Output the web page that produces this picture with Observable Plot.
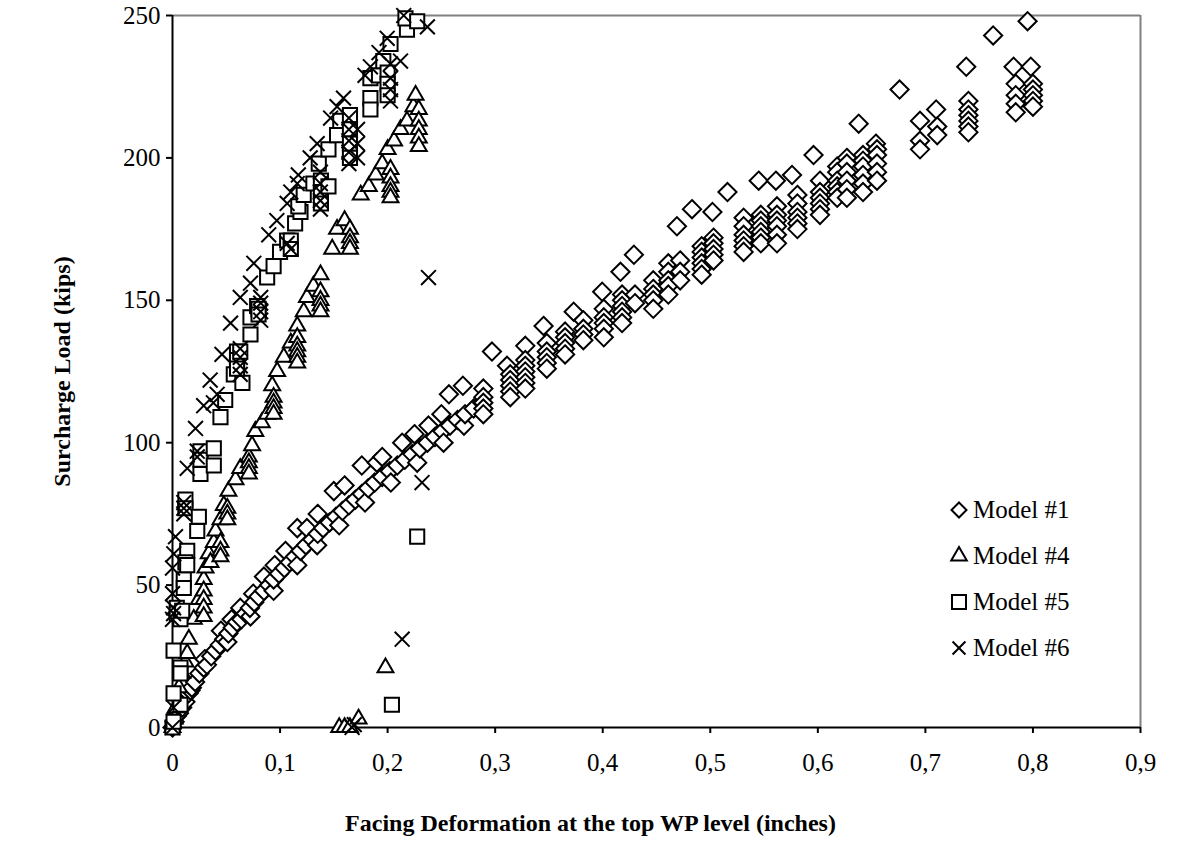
<!DOCTYPE html>
<html><head><meta charset="utf-8">
<script src="https://cdn.jsdelivr.net/npm/d3@7"></script>
<script src="https://cdn.jsdelivr.net/npm/@observablehq/plot@0.6"></script>
<style>
body{margin:0;background:#fff;}
#wrap{position:relative;width:1179px;height:855px;}
#legend{position:absolute;left:946px;top:487px;font-family:"Liberation Serif","Times New Roman",serif;font-size:25px;color:#000;}
.row{display:flex;align-items:center;height:46px;}
.row span{margin-left:1px;white-space:nowrap;}
</style></head><body><div id="wrap"></div>
<script>
const seriesNames = ["Model #1", "Model #4", "Model #5", "Model #6"];
const xTitle = "Facing Deformation at the top WP level (inches)";
const yTitle = "Surcharge Load (kips)";
const xTicks = [0, 0.1, 0.2, 0.3, 0.4, 0.5, 0.6, 0.7, 0.8, 0.9];
const yTicks = [0, 50, 100, 150, 200, 250];

const model1 = [
[0,0],[0.002,2],[0.004,4],[0.006,5],[0.009,7],[0.012,9],[0.015,12],[0.0167,13],[0.018,14],[0.021,16],[0.025,19],[0.029,21],[0.03,24],[0.032,22],[0.036,25],[0.04,27],[0.044,29],[0.045,34],[0.048,31],[0.051,30],[0.052,33],[0.055,38],[0.056,35],[0.06,37],[0.063,42],[0.064,38],[0.068,40],[0.0725,39],[0.072,42],[0.075,47],[0.076,44],[0.08,46],[0.085,53],[0.085,48],[0.09,50],[0.094,48],[0.094,52],[0.095,57],[0.099,54],[0.104,56],[0.105,62],[0.109,58],[0.114,60],[0.116,70],[0.116,57],[0.119,62],[0.124,64],[0.125,70],[0.13,66],[0.1345,64],[0.135,68],[0.135,75],[0.14,70],[0.146,72],[0.15,83],[0.152,74],[0.155,71],[0.158,76],[0.16,85],[0.164,78],[0.17,80],[0.176,92],[0.176,82],[0.179,79],[0.182,84],[0.188,86],[0.19,93],[0.195,95],[0.195,88],[0.202,90],[0.203,86],[0.209,92],[0.2135,100],[0.216,94],[0.223,96],[0.225,103],[0.2275,93],[0.23,98],[0.237,100],[0.238,106],[0.244,102],[0.25,110],[0.251,104],[0.252,100],[0.257,117],[0.258,106],[0.265,108],[0.27,120],[0.271,106],[0.272,110],[0.28,112],[0.288,114],
[0.289,119],[0.289,116],[0.289,114],[0.289,112],[0.289,110],
[0.297,132],[0.311,127],
[0.314,124],[0.314,122],[0.314,120],[0.314,118],[0.314,116],
[0.328,134],[0.328,129],[0.328,127],[0.328,125],[0.328,123],[0.328,121],[0.328,119],
[0.345,141],
[0.348,135],[0.348,132],[0.348,130],[0.348,128],[0.348,126],
[0.365,139],[0.365,137],[0.365,135],[0.365,133],[0.365,131],
[0.373,146],
[0.382,143],[0.382,140],[0.382,138],[0.382,136],
[0.3995,153],
[0.401,147],[0.401,144],[0.401,142],[0.401,140],[0.401,137],
[0.4165,160],
[0.418,152],[0.418,150],[0.418,148],[0.418,146],[0.418,144],[0.418,142],
[0.429,166],
[0.43,152],[0.43,149],
[0.447,157],[0.447,154],[0.447,152],[0.447,150],[0.447,147],
[0.461,163],[0.461,160],[0.461,157],[0.461,155],[0.461,152],
[0.469,176],
[0.472,164],[0.472,160],[0.472,157],
[0.483,182],
[0.492,169],[0.492,167],[0.492,165],[0.492,163],[0.492,161],[0.492,159],
[0.502,181],
[0.503,172],[0.503,170],[0.503,168],[0.503,166],[0.503,164],
[0.516,188],
[0.531,179],[0.531,176],[0.531,173],[0.531,171],[0.531,169],[0.531,167],
[0.545,192],
[0.547,180],[0.547,178],[0.547,176],[0.547,174],[0.547,172],[0.547,170],
[0.561,192],
[0.562,183],[0.562,180],[0.562,178],[0.562,176],[0.562,173],[0.562,170],
[0.576,194],
[0.581,187],[0.581,184],[0.581,181],[0.581,179],[0.581,177],[0.581,175],
[0.596,201],
[0.602,192],[0.602,188],[0.602,186],[0.602,184],[0.602,182],[0.602,180],
[0.618,197],[0.618,195],[0.618,192],[0.618,190],[0.618,188],[0.618,186],
[0.627,200],[0.627,198],[0.627,195],[0.627,192],[0.627,189],[0.627,186],
[0.638,212],
[0.642,201],[0.642,199],[0.642,197],[0.642,194],[0.642,191],[0.642,188],
[0.654,205],
[0.655,203],[0.655,201],[0.655,198],[0.655,195],[0.655,192],
[0.676,224],
[0.695,213],[0.695,206],[0.695,203],
[0.71,217],
[0.711,211],[0.711,208],
[0.738,232],
[0.74,220],[0.74,217],[0.74,215],[0.74,213],[0.74,211],[0.74,209],
[0.763,243],
[0.782,232],[0.784,226],[0.784,222],[0.784,219],[0.784,216],
[0.798,232],[0.8,226],[0.8,224],[0.8,222],[0.8,220],[0.8,218],
[0.795,248]
];

const model4 = [
[0,0],[0.002,3],[0.003,7],[0.006,14],[0.009,19],[0.012,23],[0.0137,26],[0.0152,31],[0.0198,38],[0.0245,45],
[0.029,52],[0.029,48],[0.029,45],[0.029,42],[0.029,39],
[0.0307,56],[0.0337,61],[0.0353,58],[0.0384,65],[0.04,69],
[0.0446,73],[0.0446,65],[0.0446,62],[0.0446,60],
[0.0477,78],
[0.051,77],[0.051,75],[0.051,73],
[0.052,83],[0.0586,87],[0.063,91],
[0.071,95],[0.071,93],[0.071,91],[0.071,89],
[0.074,99],[0.077,104],[0.083,107],[0.088,110],[0.0927,120],
[0.094,116],[0.094,114],[0.094,112],[0.094,110],
[0.0973,125],[0.1035,130],[0.11,135],
[0.116,141],[0.116,137],[0.116,134],[0.116,132],[0.116,130],[0.116,128],
[0.122,146],[0.125,151],[0.131,155],
[0.1376,159],[0.1376,153],[0.1376,150],[0.1376,148],[0.1376,146],
[0.1485,168],[0.153,175],[0.16,178],
[0.165,175],[0.165,172],[0.165,170],[0.165,168],
[0.175,187],[0.1825,190],[0.189,194],[0.195,198],[0.2,203],
[0.2027,196],[0.2027,193],[0.2027,190],[0.2027,188],[0.2027,186],
[0.206,206],[0.212,210],[0.218,213],[0.224,218],[0.226,222],
[0.229,217],[0.229,213],[0.229,210],[0.229,207],[0.229,204],
[0.155,0],[0.16,0],[0.165,0],[0.173,3],[0.198,21]
];

const model5 = [
[0,0],[0.001,2],[0.0074,8],[0.001,12],[0.0074,21],[0.0074,19],[0.001,27],
[0.004,42],[0.004,40],[0.0074,38],[0.009,41],[0.0105,52],[0.0105,49],[0.0137,62],[0.012,58],[0.0137,57],
[0.012,80],[0.012,77],[0.023,69],[0.0245,74],[0.026,89],[0.026,97],[0.026,94],
[0.0384,98],[0.0384,92],[0.0446,109],[0.049,115],[0.057,124],[0.065,121],
[0.06,132],[0.06,129],[0.06,126],
[0.063,132],[0.0725,144],[0.0725,138],[0.0787,148],
[0.08,147],[0.08,145],
[0.088,158],[0.094,162],[0.1,167],[0.1066,171],
[0.11,171],[0.11,168],
[0.114,177],[0.119,181],[0.117,183],[0.122,187],[0.131,191],[0.136,198],
[0.138,192],[0.138,188],[0.138,184],
[0.145,190],[0.145,203],[0.153,208],[0.156,213],
[0.165,215],[0.165,210],[0.165,205],[0.165,200],
[0.184,228],[0.184,221],[0.184,217],[0.192,229],[0.196,234],
[0.2,230],[0.2,226],[0.2,222],
[0.2027,240],[0.218,245],[0.2166,249],[0.2275,248],
[0.204,8],[0.2275,67]
];

const model6 = [
[0,0],[0.001,7],[0.001,42],[0.001,40],[0,38],[0,47],[0,56],[0.0012,61],[0.0028,67],
[0.0105,79],[0.0105,77],[0.0105,75],
[0.0137,91],[0.0214,105],[0.023,97],[0.023,95],[0.029,113],[0.035,122],[0.038,114],[0.0415,117],[0.046,131],[0.054,142],
[0.063,151],[0.063,133],[0.063,130],[0.063,127],[0.063,124],
[0.0725,156],[0.0756,163],
[0.082,151],[0.082,149],[0.082,146],[0.082,143],
[0.0895,173],[0.097,178],[0.1066,184],[0.1066,170],[0.11,188],[0.11,168],[0.116,191],[0.117,194],[0.128,200],[0.1345,205],
[0.1375,195],[0.1375,191],[0.1375,188],[0.1375,185],[0.1375,182],
[0.147,214],[0.153,218],[0.159,221],
[0.164,214],[0.164,210],[0.164,206],[0.164,202],[0.164,198],
[0.172,210],[0.172,205],[0.172,200],
[0.179,229],[0.184,232],[0.192,237],[0.1996,242],
[0.2027,233],[0.2027,228],[0.2027,224],[0.2027,220],
[0.212,234],[0.215,250],[0.237,246],
[0.167,0],[0.169,1],[0.2135,31],[0.232,86],[0.238,158]
];

const symbols = ["diamond2", "triangle2", "square2", "times"];
const radii = [8.2, 7.6, 9, 6.8];
const allSeries = [model1, model4, model5, model6];
const fmtX = d => d === 0 ? "0" : d3.format(".1f")(d).replace(".", ",");
const fmtY = d => String(d);

const dotMarks = allSeries.map((s, i) => Plot.dot(s, {
  x: d => d[0], y: d => d[1], symbol: () => symbols[i], r: radii[i],
  stroke: "black", strokeWidth: 2, fill: symbols[i] === "times" ? "none" : "white"
}));

const chart = Plot.plot({
  width: 1179, height: 855,
  marginLeft: 172, marginRight: 39, marginTop: 15, marginBottom: 128,
  style: {fontFamily: "'Liberation Serif', 'Times New Roman', serif", fontSize: "25px", color: "black", background: "white"},
  x: {domain: [0, 0.9]},
  y: {domain: [0, 250]},
  symbol: {type: "identity"},
  marks: [
    Plot.ruleY([250], {stroke: "#808080", strokeWidth: 2}),
    Plot.ruleX([0.9], {stroke: "#808080", strokeWidth: 2}),
    Plot.axisX(xTicks, {tickSize: 6, tickPadding: 20, tickFormat: fmtX, strokeWidth: 2, label: null}),
    Plot.axisY(yTicks, {tickSize: 6, tickPadding: 6, tickFormat: fmtY, strokeWidth: 2, label: null}),
    Plot.ruleX([0], {stroke: "black", strokeWidth: 2}),
    Plot.ruleY([0], {stroke: "black", strokeWidth: 2}),
    ...dotMarks,
    Plot.text([yTitle], {text: d => d, frameAnchor: "left", dx: -110, rotate: -90, textAnchor: "middle", lineAnchor: "middle", fontWeight: "bold", fontSize: 24}),
    Plot.text([xTitle], {text: d => d, frameAnchor: "bottom", dx: -66, dy: 96, textAnchor: "middle", lineAnchor: "middle", fontWeight: "bold", fontSize: 24})
  ]
});
const wrap = document.getElementById("wrap");
wrap.appendChild(chart);

// legend
const legendSymbols = [d3.symbolDiamond2, d3.symbolTriangle2, d3.symbolSquare2, d3.symbolTimes];
const legendSizes = [143, 174, 250, 110];
const legend = document.createElement("div");
legend.id = "legend";
seriesNames.forEach((name, i) => {
  const row = document.createElement("div");
  row.className = "row";
  const svg = d3.create("svg").attr("width", 26).attr("height", 26);
  svg.append("path").attr("transform", "translate(13,13)")
    .attr("d", d3.symbol(legendSymbols[i], legendSizes[i])())
    .attr("fill", i === 3 ? "none" : "white").attr("stroke", "black").attr("stroke-width", 2);
  row.appendChild(svg.node());
  const span = document.createElement("span");
  span.textContent = name;
  row.appendChild(span);
  legend.appendChild(row);
});
wrap.appendChild(legend);
</script></body></html>
